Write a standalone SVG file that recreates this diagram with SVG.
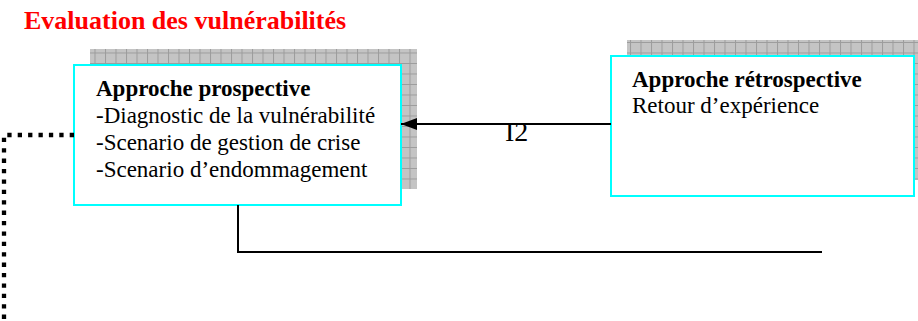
<svg xmlns="http://www.w3.org/2000/svg" width="918" height="321" viewBox="0 0 918 321">
  <defs>
    <pattern id="grid" x="0" y="0" width="10.5" height="10.5" patternUnits="userSpaceOnUse">
      <rect width="10.5" height="10.5" fill="#c4c4c4"/>
      <path d="M0 0.5 H10.5 M0.5 0 V10.5" stroke="#9c9c9c" stroke-width="1" fill="none"/>
    </pattern>
    <marker id="arrow" markerWidth="16" markerHeight="12" refX="16" refY="6" orient="auto" markerUnits="userSpaceOnUse">
      <path d="M0 0 L16 6 L0 12 Z" fill="#000"/>
    </marker>
    <style>
      .shadow { fill: url(#grid); }
      .box { fill: #fff; stroke: #00ffff; stroke-width: 2; }
      .t { font-family: "Liberation Serif", "Times New Roman", serif; font-size: 23px; fill: #000; }
      .b { font-weight: bold; }
      .lbl { font-family: "Liberation Serif", "Times New Roman", serif; font-size: 28px; fill: #000; }
      .title { font-family: "Liberation Serif", "Times New Roman", serif; font-size: 26px; font-weight: bold; fill: #ff0000; }
      .conn { stroke: #000; stroke-width: 2; fill: none; }
      .dots { stroke: #000; stroke-width: 4.3; fill: none; stroke-dasharray: 4.3 6.1; }
    </style>
  </defs>
  <rect width="918" height="321" fill="#fff"/>
  <text class="title" x="24" y="29">Evaluation des vulnérabilités</text>

  <g id="node-prospective">
    <rect class="shadow" x="90" y="49" width="327" height="140"/>
    <rect class="box" x="74" y="65" width="327" height="140"/>
    <text class="t b" x="96" y="96">Approche prospective</text>
    <text class="t" x="96" y="123">-Diagnostic de la vulnérabilité</text>
    <text class="t" x="96" y="150">-Scenario de gestion de crise</text>
    <text class="t" x="96" y="177">-Scenario d’endommagement</text>
  </g>

  <g id="node-retrospective">
    <rect class="shadow" x="627" y="40" width="303" height="140"/>
    <rect class="box" x="611" y="56" width="303" height="140"/>
    <text class="t b" x="632" y="87">Approche rétrospective</text>
    <text class="t" x="632" y="113">Retour d’expérience</text>
  </g>

  <g id="connectors">
    <line class="conn" x1="611" y1="124" x2="401" y2="124" marker-end="url(#arrow)"/>
    <text class="lbl" x="505" y="141">I2</text>
    <polyline class="conn" points="238,205 238,252 822,252"/>
    <polyline class="dots" points="74,135 4,135 4,321"/>
  </g>
</svg>
